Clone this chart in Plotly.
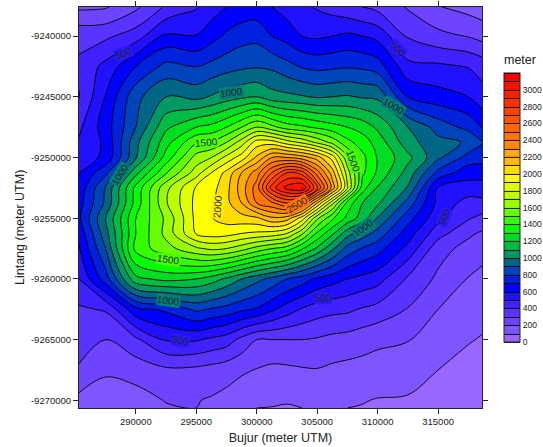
import plotly.graph_objects as go

bujur = [285300, 287500, 290000, 292500, 295000, 296250, 297500, 298750, 300000, 301250, 302500,
         303750, 305000, 306250, 307500, 308750, 310000, 312500, 315000, 317500, 318630]
lintang = [-9237600, -9240000, -9242500, -9245000, -9247500, -9248750, -9250000, -9251250,
           -9252500, -9253750, -9255000, -9256250, -9257500, -9260000, -9262500, -9265000,
           -9267500, -9270000, -9270630]

r00 = [180,190,280,415,490,550,600,630,640,600,555,520,490,460,430,400,370,290,205,165,145]
r01 = [370,380,450,620,605,660,720,760,770,700,660,600,585,600,620,600,570,390,330,295,265]
r02 = [420,530,700,830,795,830,860,880,890,880,835,790,770,780,790,780,750,530,520,495,460]
r03 = [395,605,870,1000,970,1010,1050,1080,1100,1040,1025,1010,990,1000,1010,990,980,695,640,600,540]
r04 = [480,650,900,1180,1300,1330,1400,1500,1600,1530,1450,1420,1380,1340,1300,1260,1180,1000,860,770,690]
r05 = [510,620,970,1260,1490,1510,1600,1750,1950,1950,1850,1780,1680,1570,1430,1350,1260,1040,930,890,810]
r06 = [550,620,990,1340,1640,1700,1830,1950,2120,2300,2300,2250,2150,1960,1620,1430,1290,1130,920,760,740]
r07 = [600,770,1170,1490,1750,1900,2030,2200,2350,2600,2800,2750,2450,2150,1750,1420,1280,1060,770,640,640]
r08 = [630,910,1330,1670,1915,1960,2065,2250,2450,2850,3040,3102,2710,2260,1810,1340,1190,990,590,560,560]
r09 = [660,920,1340,1690,1930,1985,2070,2200,2400,2480,2600,2480,2100,1730,1360,1200,1120,860,570,460,470]
r10 = [680,1000,1400,1620,1930,1995,2040,2060,2080,2180,2150,1950,1620,1420,1270,1150,990,740,530,410,370]
r11 = [630,960,1400,1630,1910,1950,1940,1900,1880,1860,1800,1620,1380,1220,1040,950,860,650,440,320,285]
r12 = [590,900,1440,1560,1680,1720,1700,1640,1560,1500,1450,1310,1180,1020,860,790,740,570,340,265,240]
r13 = [500,750,1170,1230,1200,1150,1080,1000,930,870,800,750,680,640,600,570,540,385,280,195,170]
r14 = [385,410,670,720,820,790,760,720,690,620,550,490,450,430,420,390,365,295,200,150,125]
r15 = [340,300,380,510,510,480,450,370,300,300,300,300,290,270,260,240,220,205,145,105,95]
r16 = [290,215,240,280,275,260,240,215,195,175,180,190,195,180,170,165,160,145,100,75,60]
r17 = [170,150,160,205,205,190,170,140,115,110,105,115,125,120,115,105,95,90,65,50,40]
r18 = [150,130,150,190,200,180,165,130,100,98,95,100,105,103,100,95,85,80,55,40,35]
tinggi = [r00, r01, r02, r03, r04, r05, r06, r07, r08, r09, r10, r11, r12, r13, r14, r15, r16, r17, r18]

warna = ["#9966FF","#7F55FF","#6F44FF","#5933FF","#3F22FF","#2211FF","#0000FF","#0022DD",
         "#0044BB","#006688","#009966","#00BB44","#00DD22","#00FF00","#33FF00","#66FF00",
         "#99FF00","#BBFF00","#DDFF00","#FFFF00","#FFDD00","#FFBB00","#FFAA00","#FF8800",
         "#FF7700","#FF6600","#FF5500","#FF4400","#FF3300","#FF2200","#FF1100","#FF0000"]
n = len(warna)
skala = []
for i, c in enumerate(warna):
    skala.append([i / n, c])
    skala.append([(i + 1) / n, c])

xticks = [290000, 295000, 300000, 305000, 310000, 315000]
yticks = [-9240000, -9245000, -9250000, -9255000, -9260000, -9265000, -9270000]
cbticks = list(range(0, 3001, 200))

label_teks = ["500","500","500","500","500","1000","1000","1000","1000","1000","1500","1500","1500","2000","2500"]
label_x = [288950,311680,293660,305480,315560,297880,288700,292670,311350,308870,295810,307960,292670,296800,303410]
label_y = [-9241444,-9241114,-9265041,-9261576,-9254893,-9244662,-9251427,-9261741,-9245817,-9255800,
           -9248787,-9250355,-9258358,-9254068,-9253903]
label_sudut = [-20,45,10,0,-70,-8,-58,8,32,-35,-5,70,8,-85,-30]
label_warna = ["#2A18FF","#2A18FF","#2A18FF","#2A18FF","#2A18FF","#00807A","#00807A","#00807A","#00807A",
               "#00807A","#4CFF00","#4CFF00","#4CFF00","#FFEE00","#FF7700"]

FONT = "Liberation Sans"
INK = "#222222"
W, H = 543, 447
L, R, T, B = 79, 482, 7, 408

fig = go.Figure()
fig.add_trace(go.Contour(
    x=bujur, y=lintang, z=tinggi, zmin=0, zmax=3200, colorscale=skala,
    autocontour=False, contours=dict(start=0, end=3200, size=100, coloring="fill"),
    line=dict(width=0.9, color="#000000", smoothing=1), hoverinfo="skip",
    colorbar=dict(
        x=(504 - L) / (R - L), xanchor="left", xpad=0, ypad=0,
        y=(B - 342) / (B - T), yanchor="bottom",
        lenmode="pixels", len=269, thicknessmode="pixels", thickness=16,
        tickmode="array", tickvals=cbticks, ticks="",
        tickfont=dict(family=FONT, size=8.6, color=INK),
        outlinecolor=INK, outlinewidth=1, title=dict(text="")
    )))

axis = dict(showgrid=False, zeroline=False, showline=True, linecolor=INK, linewidth=1,
            mirror="ticks", ticks="outside", ticklen=5, tickcolor=INK,
            tickfont=dict(family=FONT, size=9.5, color=INK))
anno = [dict(text="meter", xref="paper", yref="paper",
             x=(502 - L) / (R - L), y=(B - 60) / (B - T), xanchor="left", yanchor="middle",
             showarrow=False, font=dict(family=FONT, size=12.5, color=INK)),
        dict(text="Lintang (meter UTM)", xref="paper", yref="paper",
             x=(20 - L) / (R - L), y=(B - 228) / (B - T), xanchor="center", yanchor="middle",
             textangle=-90, showarrow=False, font=dict(family=FONT, size=12.5, color=INK))]
for t, x, y, a, c in zip(label_teks, label_x, label_y, label_sudut, label_warna):
    anno.append(dict(text=t, x=x, y=y, xref="x", yref="y", textangle=a, showarrow=False,
                     bgcolor=c, borderpad=0, font=dict(family=FONT, size=10, color=INK)))
fig.update_layout(
    width=W, height=H, paper_bgcolor="white", plot_bgcolor="white", showlegend=False,
    margin=dict(l=L, r=W - R, t=T, b=H - B, pad=0, autoexpand=False),
    xaxis=dict(axis, range=[285300, 318630], tickmode="array", tickvals=xticks,
               ticktext=[str(v) for v in xticks],
               title=dict(text="Bujur (meter UTM)", font=dict(family=FONT, size=12.5, color=INK), standoff=6)),
    yaxis=dict(axis, range=[-9270630, -9237600], tickmode="array", tickvals=yticks,
               ticktext=[str(v) for v in yticks]),
    annotations=anno,
)
fig.write_html("out.html", post_script="document.body.style.margin='0';",
               config={"displayModeBar": False})
